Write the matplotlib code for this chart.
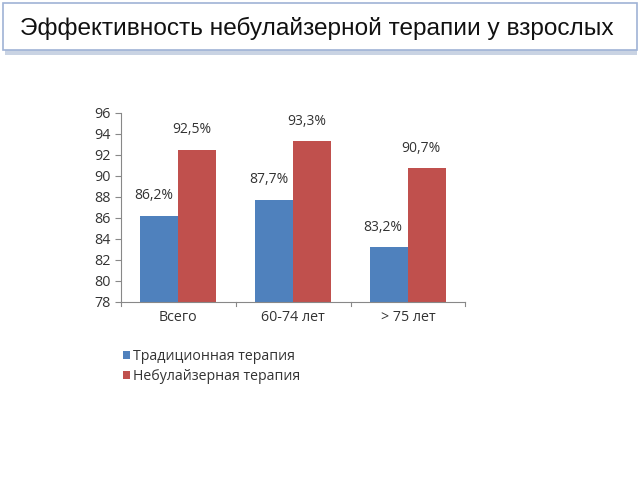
import numpy as np
import matplotlib.pyplot as plt
from matplotlib.patches import Rectangle

plt.rcParams["font.family"] = ["Open Sans", "DejaVu Sans"]

categories = ["Всего", "60-74 лет", "> 75 лет"]
traditional = [86.2, 87.7, 83.2]
nebulizer = [92.5, 93.3, 90.7]
series_names = ["Традиционная терапия", "Небулайзерная терапия"]
title = "Эффективность небулайзерной терапии у взрослых"

blue = "#4F81BD"
red = "#C0504D"

fig = plt.figure(figsize=(6.4, 4.8), dpi=100)

# title box with a soft shadow
fig.patches.append(Rectangle((0.008, 0.885), 0.988, 0.012, transform=fig.transFigure,
                             facecolor="#c9d3e3", edgecolor="none", zorder=0))
fig.patches.append(Rectangle((0.005, 0.896), 0.99, 0.098, transform=fig.transFigure,
                             facecolor="white", edgecolor="#9fb3d6", linewidth=1.2, zorder=1))
fig.text(0.031, 0.941, title, fontsize=17.6, family="Liberation Sans",
         va="center", ha="left", color="#111111")

ax = fig.add_axes([0.189, 0.371, 0.538, 0.394])
x = np.arange(len(categories))
w = 0.33
b1 = ax.bar(x - w / 2, np.array(traditional) - 78, w, bottom=78, color=blue, label=series_names[0])
b2 = ax.bar(x + w / 2, np.array(nebulizer) - 78, w, bottom=78, color=red, label=series_names[1])

for xi, v in zip(x - w / 2, traditional):
    ax.text(xi - 0.05, v + 1.2, f"{v:.1f}%".replace(".", ","), ha="center", va="bottom",
            fontsize=10, color="#333333")
for xi, v in zip(x + w / 2, nebulizer):
    ax.text(xi - 0.05, v + 1.2, f"{v:.1f}%".replace(".", ","), ha="center", va="bottom",
            fontsize=10, color="#333333")

ax.set_xlim(-0.5, 2.5)
ax.set_ylim(78, 96)
ax.set_yticks(range(78, 97, 2))
ax.tick_params(axis="y", labelsize=10.3, colors="#333333", length=4, color="#888888")
ax.set_xticks(x)
ax.set_xticklabels(categories, fontsize=10.3, color="#333333")
ax.tick_params(axis="x", length=0, pad=6)
for b in [-0.5, 0.5, 1.5, 2.5]:
    ax.plot([b, b], [0, -0.02], transform=ax.get_xaxis_transform(), color="#888888",
            linewidth=0.8, clip_on=False)
for s in ["top", "right"]:
    ax.spines[s].set_visible(False)
for s in ["left", "bottom"]:
    ax.spines[s].set_color("#888888")

fig.legend(handles=[b1, b2], labels=series_names, loc="upper left",
           bbox_to_anchor=(0.172, 0.3), frameon=False, fontsize=10.2,
           handlelength=0.5, handleheight=0.5, handletextpad=0.2, labelspacing=0.4,
           labelcolor="#333333")

fig.savefig("out.png", dpi=100)
